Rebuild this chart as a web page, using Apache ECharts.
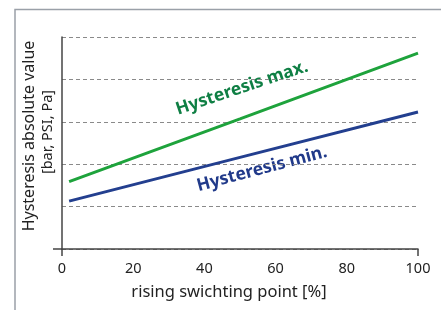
<!DOCTYPE html>
<html><head><meta charset="utf-8">
<script src="https://cdn.jsdelivr.net/npm/echarts@6/dist/echarts.min.js"></script>
<style>html,body{margin:0;padding:0;background:#fff}#c{width:441px;height:310px}</style>
</head><body><div id="c"></div>
<script>
const switchingPoint = [2, 50, 100];
const hysteresisMax = [1.59, 3.07, 4.62];
const hysteresisMin = [1.13, 2.16, 3.23];
const xTicks = [0, 20, 40, 60, 80, 100];
const yGrid = [0, 1, 2, 3, 4, 5];

const font = '"Noto Sans", "Open Sans", sans-serif';
const chart = echarts.init(document.getElementById('c'));
const pair = (ys) => switchingPoint.map((x, i) => [x, ys[i]]);
const yMin = yGrid[0], yMax = yGrid[yGrid.length - 1];
chart.setOption({
  animation: false,
  grid: { left: 62, right: 23, top: 37, bottom: 61, outerBoundsMode: 'none', containLabel: false },
  xAxis: {
    type: 'value', min: xTicks[0], max: xTicks[xTicks.length - 1], interval: 20,
    name: 'rising swichting point [%]', nameLocation: 'middle', nameGap: 35,
    nameTextStyle: { fontFamily: font, fontSize: 16.5, color: '#222', padding: [0, 22, 0, 0] },
    axisLine: { lineStyle: { color: '#444', width: 1.5 } },
    axisTick: { show: true, customValues: [0, 100], length: 7, lineStyle: { color: '#444', width: 1.5 } },
    axisLabel: { fontFamily: font, fontSize: 14.5, color: '#222', margin: 12 },
    splitLine: { show: false }
  },
  yAxis: [{
    type: 'value', min: yMin, max: yMax, interval: 1,
    name: 'Hysteresis absolute value', nameLocation: 'middle', nameGap: 23,
    nameTextStyle: { fontFamily: font, fontSize: 16, color: '#222', lineHeight: 20, padding: [0, 0, 0, 14] },
    axisLine: { show: true, lineStyle: { color: '#444', width: 1.5 } },
    axisTick: { show: false },
    axisLabel: { show: false },
    splitLine: { show: true, lineStyle: { color: '#8a8a8a', type: [4, 3], width: 1 } }
  }, {
    type: 'value', min: yMin, max: yMax, interval: 1, position: 'left',
    name: '[bar, PSI, Pa]', nameLocation: 'middle', nameGap: 4,
    nameTextStyle: { fontFamily: font, fontSize: 14.5, color: '#222', lineHeight: 20, padding: [0, 0, 0, 22] },
    axisLine: { show: false },
    axisTick: { show: true, customValues: [0], length: 9, lineStyle: { color: '#444', width: 1.5 } },
    axisLabel: { show: false },
    splitLine: { show: false }
  }],
  series: [
    { type: 'line', data: pair(hysteresisMax), symbol: 'none', lineStyle: { color: '#1ea33c', width: 3 }, z: 3 },
    { type: 'line', data: pair(hysteresisMin), symbol: 'none', lineStyle: { color: '#233f8f', width: 3 }, z: 3 }
  ],
  graphic: [
    { type: 'rect', shape: { x: 15, y: 9.5, width: 600, height: 400 }, style: { fill: 'none', stroke: '#9aa0a8', lineWidth: 1.5 }, silent: true },
    { type: 'text', x: 242, y: 88, rotation: 18.5 * Math.PI / 180,
      style: { text: 'Hysteresis max.', font: 'bold 17.5px ' + font, fill: '#0f7f44', align: 'center', verticalAlign: 'middle' } },
    { type: 'text', x: 262, y: 169, rotation: 15 * Math.PI / 180,
      style: { text: 'Hysteresis min.', font: 'bold 17.5px ' + font, fill: '#213a8a', align: 'center', verticalAlign: 'middle' } }
  ]
});
</script></body></html>
